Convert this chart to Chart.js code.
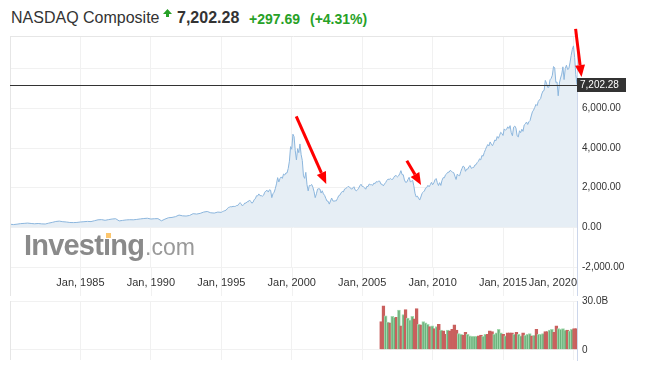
<!DOCTYPE html>
<html>
<head>
<meta charset="utf-8">
<script src="https://cdn.jsdelivr.net/npm/chart.js@4.4.1/dist/chart.umd.min.js"></script>
<style>
    html, body { margin: 0; padding: 0; background: #fff; }
    body { width: 651px; height: 371px; position: relative; overflow: hidden;
           font-family: "Liberation Sans", Arial, sans-serif; }
    .hd { position: absolute; top: 10px; line-height: 16px; white-space: nowrap; }
    #name  { left: 11px; font-size: 16px; color: #333; }
    #last  { left: 177px; font-size: 16px; font-weight: bold; color: #333; }
    #chg   { left: 249px; top: 11px; font-size: 14px; font-weight: bold; color: #27a127; }
    #pct   { left: 310px; top: 11px; font-size: 14px; font-weight: bold; color: #27a127; }
    #up    { position: absolute; left: 163px; top: 9px; }
    canvas { position: absolute; left: 0; }
    #mainChart { top: 0; }
    #volChart  { top: 290px; }
    .logo { position: absolute; top: 231px; line-height: 29px; white-space: nowrap; z-index: 2; }
    #logoName { left: 24px; font-size: 29px; font-weight: bold; color: #8a8a8a; letter-spacing: -0.8px; }
    #logoCom  { left: 145px; top: 235px; line-height: 24px; font-size: 23px; color: #999; }
    #logoDot { position: absolute; left: 106px; top: 233px; width: 5px; height: 5px; background: #fcc66e; z-index: 3; }
</style>
</head>
<body>

<div class="hd" id="name">NASDAQ Composite</div>
<svg id="up" width="9" height="9" viewBox="0 0 9 9">
    <polygon points="4.5,0 9,5 6,5 6,8 3,8 3,5 0,5" fill="#27a127"/>
</svg>
<div class="hd" id="last">7,202.28</div>
<div class="hd" id="chg">+297.69</div>
<div class="hd" id="pct">(+4.31%)</div>

<canvas id="mainChart" width="651" height="300"></canvas>
<canvas id="volChart" width="651" height="81"></canvas>

<div class="logo" id="logoName">Investıng</div>
<div class="logo" id="logoCom">.com</div>
<div id="logoDot"></div>

<script>
// ------------------------------------------------------
// Data
// ------------------------------------------------------
// quarterly closes 1980-1994 (Jan, Apr, Jul, Oct)
const QUARTER_START = 1980;
const quarterlyCloses = [
    158, 140, 160, 188,
    200, 215, 195, 180,
    195, 175, 168, 212,
    250, 295, 315, 285,
    270, 245, 240, 248,
    270, 285, 300, 290,
    335, 380, 390, 355,
    390, 420, 435, 325,
    350, 375, 385, 380,
    400, 425, 445, 460,
    420, 435, 440, 330,
    415, 485, 500, 540,
    620, 580, 570, 600,
    690, 670, 705, 770,
    800, 735, 720, 770
];

// monthly closes Jan 1995 - Apr 2020
const MONTH_START = 1995;
const monthlyCloses = [
    755, 793, 817, 843, 864, 933, 1001, 1020, 1044, 1036, 1059, 1052,
    1060, 1100, 1101, 1191, 1243, 1185, 1081, 1142, 1227, 1222, 1293, 1291,
    1380, 1309, 1222, 1261, 1400, 1442, 1594, 1587, 1686, 1594, 1601, 1570,
    1619, 1771, 1835, 1869, 1779, 1895, 1873, 1499, 1694, 1771, 1950, 2193,
    2506, 2288, 2461, 2543, 2471, 2686, 2638, 2739, 2746, 2966, 3336, 4069,
    3940, 4697, 4573, 3861, 3401, 3966, 3767, 4206, 3673, 3370, 2598, 2471,
    2773, 2152, 1840, 2116, 2110, 2161, 2027, 1805, 1499, 1690, 1931, 1950,
    1934, 1731, 1845, 1688, 1616, 1463, 1328, 1315, 1172, 1330, 1479, 1335,
    1320, 1337, 1341, 1464, 1596, 1623, 1735, 1810, 1787, 1932, 1960, 2003,
    2066, 2030, 1994, 1920, 1987, 2048, 1887, 1838, 1897, 1975, 2096, 2175,
    2062, 2051, 1999, 1922, 2068, 2057, 2185, 2152, 2152, 2120, 2233, 2205,
    2306, 2281, 2340, 2323, 2179, 2172, 2091, 2184, 2258, 2367, 2432, 2415,
    2464, 2416, 2422, 2525, 2605, 2603, 2546, 2596, 2702, 2859, 2661, 2652,
    2390, 2271, 2279, 2413, 2523, 2293, 2326, 2368, 2092, 1721, 1536, 1577,
    1476, 1378, 1529, 1717, 1774, 1835, 1979, 2009, 2122, 2045, 2145, 2269,
    2147, 2238, 2398, 2461, 2257, 2109, 2255, 2114, 2369, 2507, 2498, 2653,
    2700, 2782, 2781, 2874, 2835, 2774, 2756, 2579, 2415, 2684, 2620, 2605,
    2814, 2967, 3092, 3046, 2827, 2935, 2940, 3067, 3116, 2977, 3010, 3020,
    3142, 3160, 3268, 3329, 3456, 3403, 3626, 3590, 3771, 3920, 4060, 4177,
    4104, 4308, 4199, 4115, 4243, 4408, 4370, 4580, 4493, 4631, 4792, 4736,
    4635, 4964, 4901, 4941, 5070, 4987, 5128, 4777, 4620, 5054, 5109, 5007,
    4614, 4558, 4870, 4775, 4948, 4843, 5162, 5213, 5312, 5189, 5324, 5383,
    5615, 5825, 5912, 6048, 6199, 6140, 6348, 6429, 6496, 6728, 6874, 6903,
    7411, 7273, 7063, 7066, 7442, 7510, 7672, 8110, 8046, 7306, 7331, 6635,
    7282, 7533, 7729, 8095, 7453, 8006, 8175, 7963, 7999, 8292, 8665, 8973,
    9151, 8567, 7700, 7202
];

const LAST_PRICE = 7202.28;

// volume bars (billions), first bar ~mid 2006, last ~early 2020
const VOL_FIRST = 2006.35;
const VOL_LAST = 2020.2;
const volumes = [
    17.4, 27, 20.9, 17, 16.5, 20.5, 20, 20, 24.4, 14.7,
    21.7, 24.7, 19.5, 18.3, 20.5, 19.1, 25.3, 15.6, 15.3, 17.4,
    16.5, 15.6, 14.2, 14.7, 13, 14.2, 15.6, 12.1, 11.6, 9.5,
    12.1, 11.7, 12.5, 15.3, 12.1, 10, 9.5, 9.1, 10.7, 9.5,
    8.6, 8.3, 8.3, 8.3, 8.6, 9.1, 8.3, 9.5, 9.5, 11.7,
    11.2, 9.5, 10.4, 12.5, 10.4, 9.5, 8.6, 10.4, 10.4, 10.4,
    9.5, 10.7, 9.5, 8.6, 10.4, 8.9, 9.5, 10, 8.6, 8.9,
    12.5, 9.5, 9.5, 10, 11.2, 11.2, 12.1, 12.5, 10.7, 14.7,
    13, 12.5, 13, 12.1, 12.1, 11.7, 12.5, 13, 13
];
// u = up period (green), d = down period (red)
const volDirection = (
    "dduuduudud" + "uduuuddudu" + "uududududd" + "udddduuddu" + "uuuudduudd" +
    "duuuududdd" + "uduuduuudu" + "duuudduudd" + "uuuuduudd"
).split("");

const xTickYears = [1985, 1990, 1995, 2000, 2005, 2010, 2015, 2020];
const priceTicks = [-2000, 0, 2000, 4000, 6000, 8000];
const volTicks = [0, 30];

// red call-out arrows, in [year, price]
const arrows = [
    { from: [2000.32, 5600], to: [2002.45, 2190] },
    { from: [2008.17, 3360], to: [2009.18, 2140] },
    { from: [2020.15, 10010], to: [2020.57, 7580] }
];

// ------------------------------------------------------
// Styles
// ------------------------------------------------------
const FONT = '"Liberation Sans", Arial, sans-serif';
const GRID = "#f1f1f1";
const FRAME = "#e6e6e6";
const AXIS = "#ccd6eb";
const TEXT = "#333333";

const pricePoints = [];
quarterlyCloses.forEach((v, i) => pricePoints.push({ x: QUARTER_START + i / 4, y: v }));
monthlyCloses.forEach((v, i) => pricePoints.push({ x: MONTH_START + i / 12, y: v }));

const volStep = (VOL_LAST - VOL_FIRST) / (volumes.length - 1);
const volPoints = volumes.map((v, i) => ({ x: VOL_FIRST + i * volStep, y: v }));

function vline(ctx, x, y0, y1) {
    ctx.beginPath();
    ctx.moveTo(x, y0);
    ctx.lineTo(x, y1);
    ctx.stroke();
}
function hline(ctx, y, x0, x1) {
    ctx.beginPath();
    ctx.moveTo(x0, y);
    ctx.lineTo(x1, y);
    ctx.stroke();
}

function drawArrow(ctx, x0, y0, x1, y1) {
    const ang = Math.atan2(y1 - y0, x1 - x0);
    const headLen = 12, headHalf = 5;
    const bx = x1 - headLen * Math.cos(ang);
    const by = y1 - headLen * Math.sin(ang);
    ctx.strokeStyle = "#ff0000";
    ctx.fillStyle = "#ff0000";
    ctx.lineWidth = 3;
    ctx.beginPath();
    ctx.moveTo(x0, y0);
    ctx.lineTo(bx, by);
    ctx.stroke();
    ctx.beginPath();
    ctx.moveTo(x1, y1);
    ctx.lineTo(bx + headHalf * Math.sin(ang), by - headHalf * Math.cos(ang));
    ctx.lineTo(bx - headHalf * Math.sin(ang), by + headHalf * Math.cos(ang));
    ctx.closePath();
    ctx.fill();
}

// ------------------------------------------------------
// Price pane extras: frame, date band, last price, arrows
// ------------------------------------------------------
const BAND_BOTTOM = 296;

const pricePaneExtras = {
    id: "pricePaneExtras",
    afterDraw(chart) {
        const { ctx, chartArea: a, scales: { x, y } } = chart;
        ctx.save();
        ctx.lineWidth = 1;

        // vertical grid carried through the date band
        ctx.strokeStyle = GRID;
        x.ticks.forEach(t => {
            const px = Math.round(x.getPixelForValue(t.value)) + 0.5;
            vline(ctx, px, a.bottom, BAND_BOTTOM);
        });

        // frame
        ctx.strokeStyle = FRAME;
        vline(ctx, a.left + 0.5, a.top, BAND_BOTTOM);
        hline(ctx, a.top + 0.5, a.left, a.right);
        ctx.strokeStyle = AXIS;
        vline(ctx, a.right + 0.5, a.bottom, BAND_BOTTOM);

        // date labels; the last one is pulled in so it stays left of the axis
        ctx.font = "11px " + FONT;
        ctx.fillStyle = TEXT;
        ctx.textAlign = "center";
        ctx.textBaseline = "middle";
        x.ticks.forEach(t => {
            const label = "Jan, " + t.value;
            const w = ctx.measureText(label).width;
            const cx = Math.min(x.getPixelForValue(t.value), a.right - w / 2);
            ctx.fillText(label, cx, a.bottom + 16);
        });

        // last price line + tag
        const py = Math.round(y.getPixelForValue(LAST_PRICE)) + 0.5;
        ctx.strokeStyle = "#333333";
        hline(ctx, py, a.left, a.right);
        ctx.fillStyle = "#333333";
        ctx.fillRect(a.right, py - 7.5, 49, 14);
        ctx.fillStyle = "#ffffff";
        ctx.font = "10px " + FONT;
        ctx.textAlign = "left";
        ctx.fillText(LAST_PRICE.toLocaleString("en-US", { minimumFractionDigits: 2 }), a.right + 3, py);

        // call-out arrows
        arrows.forEach(ar => {
            drawArrow(ctx,
                x.getPixelForValue(ar.from[0]), y.getPixelForValue(ar.from[1]),
                x.getPixelForValue(ar.to[0]), y.getPixelForValue(ar.to[1]));
        });
        ctx.restore();
    }
};

new Chart(document.getElementById("mainChart"), {
    type: "line",
    data: {
        datasets: [{
            data: pricePoints,
            borderColor: "#8cb6dd",
            borderWidth: 1,
            backgroundColor: "#e6eef5",
            fill: "origin",
            pointRadius: 0,
            tension: 0
        }]
    },
    options: {
        responsive: false,
        animation: false,
        events: [],
        layout: { padding: { left: 10, top: 36, right: 0, bottom: 0 } },
        plugins: { legend: { display: false }, tooltip: { enabled: false } },
        scales: {
            x: {
                type: "linear",
                min: 1980,
                max: 2020.25,
                afterBuildTicks: s => { s.ticks = xTickYears.map(v => ({ value: v })); },
                afterFit: s => { s.height = 33; },
                ticks: { display: false },
                grid: { color: GRID, drawTicks: false },
                border: { display: false }
            },
            y: {
                position: "right",
                min: -2000,
                max: 9650,
                afterBuildTicks: s => { s.ticks = priceTicks.map(v => ({ value: v })); },
                afterFit: s => { s.width = 74; },
                ticks: {
                    padding: 5,
                    color: TEXT,
                    font: { family: FONT, size: 10 },
                    // the 8,000 line carries no label in the original
                    callback: v => v === 8000 ? "" : v.toLocaleString("en-US", { minimumFractionDigits: 2 })
                },
                grid: { color: GRID, drawTicks: false },
                border: { color: AXIS }
            }
        }
    },
    plugins: [pricePaneExtras]
});

// ------------------------------------------------------
// Volume pane
// ------------------------------------------------------
const volPaneExtras = {
    id: "volPaneExtras",
    afterDraw(chart) {
        const { ctx, chartArea: a } = chart;
        ctx.save();
        ctx.lineWidth = 1;
        ctx.strokeStyle = FRAME;
        vline(ctx, a.left + 0.5, a.top, a.bottom);
        ctx.restore();
    }
};

new Chart(document.getElementById("volChart"), {
    type: "bar",
    data: {
        datasets: [{
            data: volPoints,
            backgroundColor: volDirection.map(d => d === "u" ? "#6db27d" : "#c9605e"),
            borderColor: volDirection.map(d => d === "u" ? "#a3d9ae" : "#c9605e"),
            borderWidth: 1,
            barThickness: 3
        }]
    },
    options: {
        responsive: false,
        animation: false,
        events: [],
        layout: { padding: { left: 10, top: 6, right: 0, bottom: 0 } },
        plugins: { legend: { display: false }, tooltip: { enabled: false } },
        scales: {
            x: {
                type: "linear",
                min: 1980,
                max: 2020.25,
                offset: false,
                afterBuildTicks: s => { s.ticks = xTickYears.map(v => ({ value: v })); },
                afterFit: s => { s.height = 6; },
                ticks: { display: false },
                grid: { color: GRID, drawTicks: false, offset: false },
                border: { display: false }
            },
            y: {
                position: "right",
                min: -6.3,
                max: 30,
                afterBuildTicks: s => { s.ticks = volTicks.map(v => ({ value: v })); },
                afterFit: s => { s.width = 74; },
                ticks: {
                    padding: 5,
                    color: TEXT,
                    font: { family: FONT, size: 10 },
                    callback: v => v === 0 ? "0" : v.toFixed(1) + "B"
                },
                grid: { color: GRID, drawTicks: false },
                border: { color: AXIS }
            }
        }
    },
    plugins: [volPaneExtras]
});
</script>
</body>
</html>
